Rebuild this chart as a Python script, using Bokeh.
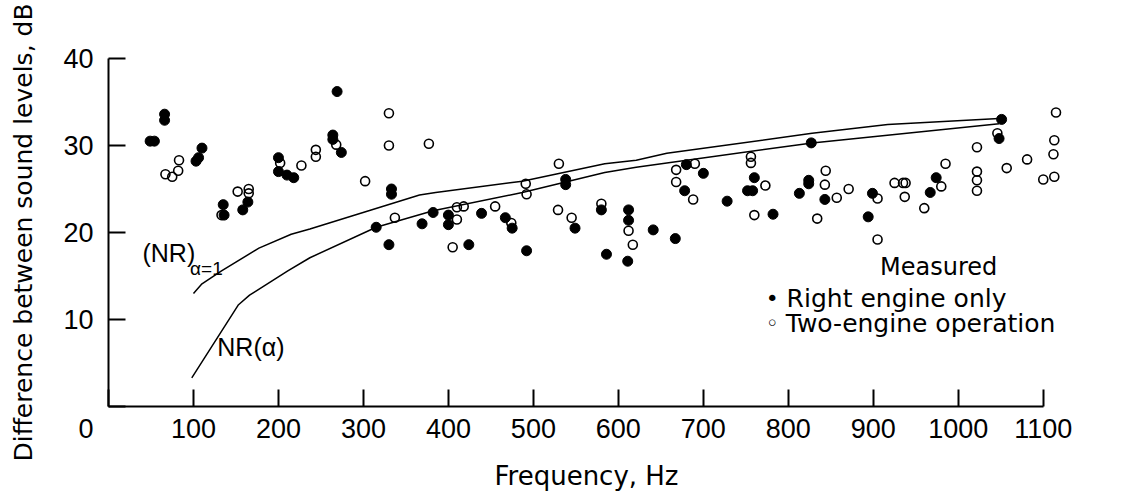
from bokeh.plotting import figure
from bokeh.models import FixedTicker, Label, Range1d
from bokeh.embed import file_html
from bokeh.resources import INLINE

# ---- data ----
right_f = [49, 54, 66, 66, 103, 106, 110, 135, 136, 158, 164, 200, 200, 210, 218,
           264, 264, 269, 274, 315, 330, 333, 333, 369, 382, 400, 400, 424, 439,
           467, 475, 492, 538, 538, 549, 580, 586, 612, 612, 611, 641, 667, 678,
           680, 700, 728, 752, 758, 760, 782, 813, 824, 824, 827, 843, 894, 899,
           967, 974, 1048, 1051]
right_db = [30.5, 30.5, 33.6, 32.9, 28.2, 28.6, 29.7, 23.2, 22.0, 22.6, 23.5, 28.6,
            27.0, 26.6, 26.3, 31.2, 30.7, 36.2, 29.2, 20.6, 18.6, 25.0, 24.4, 21.0,
            22.3, 22.0, 20.9, 18.6, 22.2, 21.7, 20.5, 17.9, 26.1, 25.5, 20.5, 22.6,
            17.5, 22.6, 21.4, 16.7, 20.3, 19.3, 24.8, 27.8, 26.8, 23.6, 24.8, 24.8,
            26.3, 22.1, 24.5, 26.0, 25.6, 30.3, 23.8, 21.8, 24.5, 24.6, 26.3, 30.8,
            33.0]

two_f = [67, 75, 82, 83, 133, 152, 165, 165, 202, 227, 244, 244, 268, 302, 330,
         330, 337, 377, 405, 410, 410, 418, 455, 474, 491, 492, 529, 530, 545,
         580, 612, 617, 668, 668, 688, 690, 756, 756, 760, 773, 834, 843, 844,
         857, 871, 905, 905, 925, 935, 938, 937, 960, 980, 985, 1022, 1022, 1022,
         1022, 1046, 1057, 1081, 1100, 1113, 1112, 1113, 1115]
two_db = [26.7, 26.4, 27.1, 28.3, 22.0, 24.7, 25.0, 24.5, 28.0, 27.7, 29.5, 28.7,
          30.1, 25.9, 33.7, 30.0, 21.7, 30.2, 18.3, 22.9, 21.5, 23.0, 23.0, 21.1,
          25.6, 24.4, 22.6, 27.9, 21.7, 23.3, 20.2, 18.6, 27.2, 25.8, 23.8, 27.9,
          28.7, 28.0, 22.0, 25.4, 21.6, 25.5, 27.1, 24.0, 25.0, 19.2, 23.9, 25.7,
          25.7, 25.7, 24.1, 22.8, 25.3, 27.9, 29.8, 27.0, 26.0, 24.8, 31.4, 27.4,
          28.4, 26.1, 26.4, 29.0, 30.6, 33.8]

nr1_f = [100, 110, 133, 177, 215, 237, 366, 385, 487, 584, 621, 657, 828, 917, 1048]
nr1_db = [13.0, 14.1, 15.6, 18.2, 19.8, 20.4, 24.3, 24.6, 25.9, 27.9, 28.3, 29.1,
          31.4, 32.4, 33.1]

nra_f = [98, 153, 166, 211, 237, 315, 382, 487, 584, 621, 828, 1048]
nra_db = [3.3, 11.7, 12.8, 15.6, 17.1, 20.6, 22.5, 24.6, 26.9, 27.5, 30.3, 32.5]

x_ticks = [0, 100, 200, 300, 400, 500, 600, 700, 800, 900, 1000, 1100]
y_ticks = [0, 10, 20, 30, 40]

p = figure(width=1124, height=499, x_range=Range1d(0, 1125), y_range=Range1d(0, 40),
           output_backend="svg", toolbar_location=None,
           min_border_left=108, min_border_right=60, min_border_top=58,
           min_border_bottom=93)
p.outline_line_color = None
p.xgrid.visible = False
p.ygrid.visible = False
p.background_fill_color = "white"
p.border_fill_color = "white"

for ax in (p.xaxis[0], p.yaxis[0]):
    ax.axis_line_width = 2
    ax.axis_line_color = "black"
    ax.major_tick_line_width = 2
    ax.major_tick_line_color = "black"
    ax.major_tick_in = 17
    ax.major_tick_out = 0
    ax.minor_tick_line_color = None
    ax.major_label_text_font = "Liberation Sans"
    ax.major_label_text_font_size = "27px"
    ax.major_label_text_color = "black"
    ax.axis_label_text_font = "DejaVu Sans"
    ax.axis_label_text_font_size = "25px"
    ax.axis_label_text_font_style = "normal"
    ax.axis_label_text_color = "black"

# origin label "0" sits on the x-label baseline, left of the corner
p.xaxis[0].ticker = FixedTicker(ticks=x_ticks)
p.xaxis[0].major_label_overrides = {0: "0" + "\u00a0" * 6}
p.xaxis[0].bounds = (0, 1100)
p.xaxis[0].major_label_standoff = 7
p.xaxis[0].axis_label = "Frequency, Hz"
p.xaxis[0].axis_label_standoff = 14
p.xaxis[0].axis_label_text_font_size = "26px"

p.yaxis[0].ticker = FixedTicker(ticks=y_ticks)
p.yaxis[0].bounds = (0, 40)
p.yaxis[0].major_label_overrides = {0: ""}
p.yaxis[0].major_label_standoff = 15
p.yaxis[0].axis_label = "Difference between sound levels, dB"
p.yaxis[0].axis_label_standoff = 22

# curves
p.line(nr1_f, nr1_db, line_color="black", line_width=1.5)
p.line(nra_f, nra_db, line_color="black", line_width=1.5)

# points
p.scatter(right_f, right_db, marker="circle", size=10, fill_color="black",
          line_color="black")
p.scatter(two_f, two_db, marker="circle", size=9, fill_color=None,
          line_color="black", line_width=1.6)

# curve labels
p.add_layout(Label(x=40, y=17.6, text="(NR)", text_align="left", text_baseline="middle",
                   text_font="Liberation Sans", text_font_size="25px", text_color="black"))
p.add_layout(Label(x=96, y=15.9, text="α=1", text_align="left", text_baseline="middle",
                   text_font="Liberation Sans", text_font_size="19px", text_color="black"))
p.add_layout(Label(x=128, y=6.8, text="NR(α)", text_align="left", text_baseline="middle",
                   text_font="Liberation Sans", text_font_size="25px", text_color="black"))

# legend
p.add_layout(Label(x=977, y=16.0, text="Measured", text_align="center",
                   text_baseline="middle", text_font="DejaVu Sans",
                   text_font_size="24px", text_color="black"))
p.add_layout(Label(x=781, y=12.4, text="•", text_align="center", text_baseline="middle",
                   text_font="DejaVu Sans", text_font_size="22px", text_color="black"))
p.add_layout(Label(x=798, y=12.4, text="Right engine only", text_align="left",
                   text_baseline="middle", text_font="DejaVu Sans",
                   text_font_size="25px", text_color="black"))
p.add_layout(Label(x=781, y=9.5, text="◦", text_align="center", text_baseline="middle",
                   text_font="DejaVu Sans", text_font_size="22px", text_color="black"))
p.add_layout(Label(x=797, y=9.5, text="Two-engine operation", text_align="left",
                   text_baseline="middle", text_font="DejaVu Sans",
                   text_font_size="25px", text_color="black"))

open("out.html", "w").write(file_html(p, INLINE))
